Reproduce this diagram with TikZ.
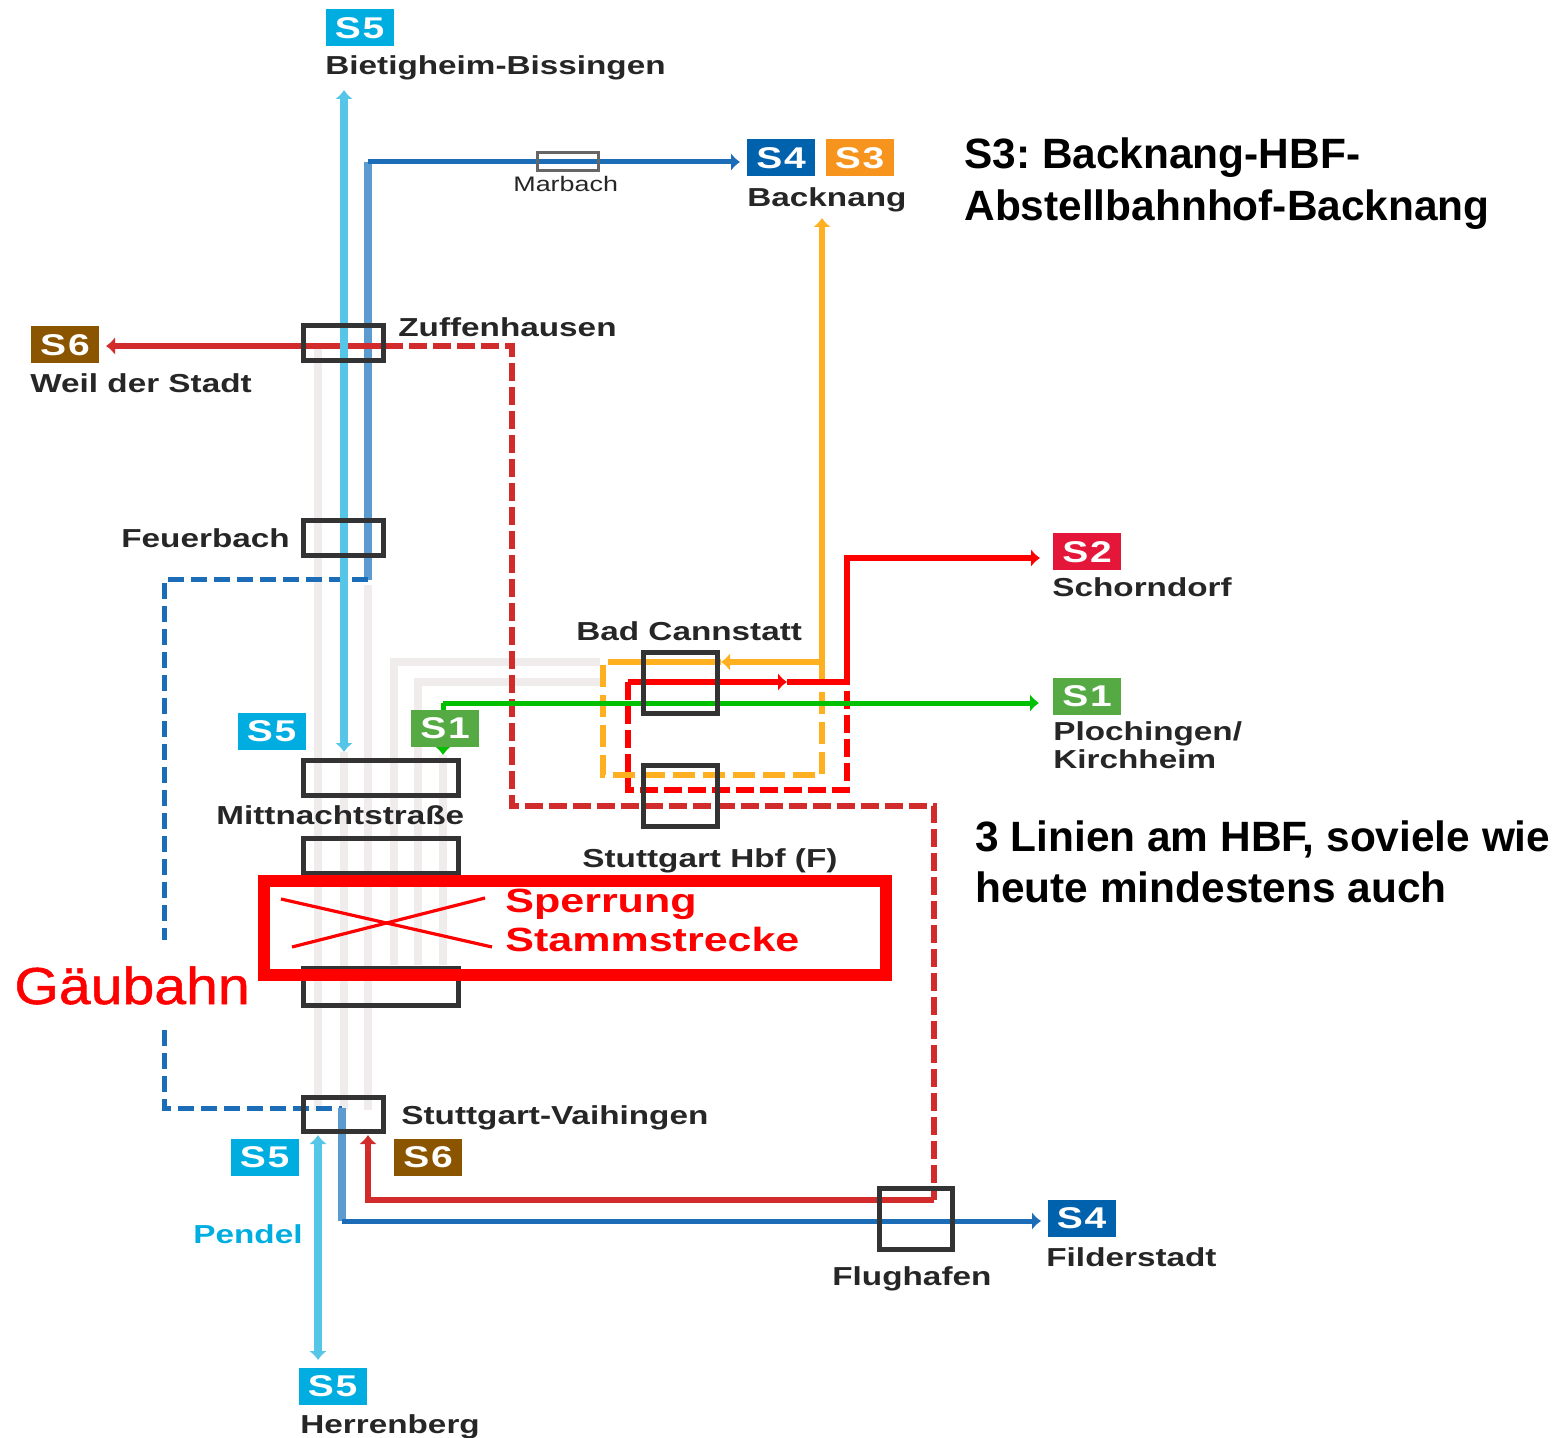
\documentclass[tikz,border=0pt]{standalone}
\usepackage{fontspec}
\setmainfont{Liberation Sans}
\newfontfamily\stationfont[FakeStretch=1.28,BoldFont={Liberation Sans Bold}]{Liberation Sans}
\newfontfamily\badgefont[FakeStretch=1.3,LetterSpace=6]{Liberation Sans Bold}
\newfontfamily\gaeufont[FakeStretch=1.1,FakeBold=1]{Liberation Sans}
\frenchspacing
\usetikzlibrary{arrows.meta}
\definecolor{cyanline}{HTML}{55C5E8}
\definecolor{blueline}{HTML}{5B9BD0}
\definecolor{bluethin}{HTML}{1C6DB8}
\definecolor{redline}{HTML}{D22B2B}
\definecolor{brightred}{HTML}{FF0000}
\definecolor{orangeline}{HTML}{FFB020}
\definecolor{greenline}{HTML}{00C000}
\definecolor{closedline}{HTML}{F0ECEC}
\definecolor{badgecyan}{HTML}{00ADE0}
\definecolor{badgeblue}{HTML}{0061AD}
\definecolor{badgeorange}{HTML}{F7941D}
\definecolor{badgebrown}{HTML}{8B5500}
\definecolor{badgered}{HTML}{E4173B}
\definecolor{badgegreen}{HTML}{55AA44}
\tikzset{%
    tip/.style={arrows={-{Latex[length=4.5pt,width=9pt]}}},
    tiptwo/.style={arrows={{Latex[length=4.5pt,width=9pt]}-{Latex[length=4.5pt,width=9pt]}}},
    closed/.style={closedline, line width=4pt},
    pendel/.style={cyanline, line width=4pt},
    sfour/.style={blueline, line width=4pt},
    sfourthin/.style={bluethin, line width=2.5pt},
    sfourdash/.style={bluethin, line width=2.5pt, dash pattern=on 8pt off 3.5pt},
    ssix/.style={redline, line width=3pt},
    ssixdash/.style={redline, line width=3pt, dash pattern=on 9pt off 3pt},
    sthree/.style={orangeline, line width=3pt},
    sthreedash/.style={orangeline, line width=3pt, dash pattern=on 11pt off 4pt},
    stwo/.style={brightred, line width=3pt},
    stwodash/.style={brightred, line width=3pt, dash pattern=on 9pt off 3pt},
    sone/.style={greenline, line width=2.5pt},
    station/.style={draw=black!80, line width=2.5pt, inner sep=0pt},
    badge/.style={minimum width=34pt, minimum height=18.5pt, inner sep=0pt,
        text=white, font=\badgefont\fontsize{15}{15}\selectfont},
    stationlabel/.style={anchor=west, inner sep=0pt, text=black!85,
        text height=9.4pt, text depth=0pt,
        font=\stationfont\bfseries\fontsize{13}{13}\selectfont},
    closure/.style={anchor=west, inner sep=0pt, text=brightred,
        text height=12pt, text depth=0pt,
        font=\stationfont\bfseries\fontsize{16.8}{16.8}\selectfont},
    remark/.style={anchor=west, inner sep=0pt,
        text height=15.2pt, text depth=0pt,
        font=\bfseries\fontsize{21.2}{21.2}\selectfont}
}

\begin{document}
\begin{tikzpicture}[x=0.5pt, y=-0.5pt]

    \useasboundingbox (0, 0) rectangle (1558, 1438);

    %%%%%%%%%%%%
    % Ends and corners of the lines
    \foreach \name/\x/\y in {%
        cyantop/344/90, cyanmid/344/752, cyanlow/318/1135, cyanend/318/1360,
        bluetop/368/162, blueend/740/162, bluefork/368/580,
        bluewest/164/580, bluegap/164/940, blueback/164/1030,
        bluesouth/164/1108, bluejoin/342/1108, bluecorner/342/1221,
        bluefild/1041/1221,
        redwest/106/346, redstation/385/346, rednorth/512/346,
        redsouth/512/806, redeast/934/806, redfar/934/1200,
        redback/368/1200, redvai/368/1135,
        orangetop/822/218, orangefork/822/662, orangehead/721/662,
        orangejoin/623/662,
        orangelow/822/775, orangeleft/603/775, orangeup/603/662,
        stwoend/1040/558, stwotop/847/558, stwofork/847/682,
        stwohead/787/682, stwoleft/628/682, stwolow/628/790, stworight/847/790,
        soneend/1039/703, sonecorner/443/703, sonehead/443/755,
        greyA/318/346, greyB/318/1110, greyC/344/1110,
        greyD/368/585, greyE/368/1110, greyF/600/662, greyG/394/662,
        greyH/394/965, greyI/600/682, greyJ/418/682, greyK/418/965,
        greyL/443/965, crossA/281/899, crossB/492/947, crossC/292/947,
        crossD/485/898%
    }{%
        \coordinate (\name) at (\x, \y);
    };

    %%%%%%%%%%%%
    % Closed tracks
    \draw[closed] (greyA) -- (greyB);
    \draw[closed] (cyanmid) -- (greyC);
    \draw[closed] (greyD) -- (greyE);
    \draw[closed] (greyF) -- (greyG) -- (greyH);
    \draw[closed] (greyI) -- (greyJ) -- (greyK);
    \draw[closed] (sonehead) -- (greyL);

    % Lines
    \draw[sfour] (bluefork) -- (bluetop);
    \draw[sfourthin, tip] (bluetop) -- (blueend);
    \draw[sfourdash] (bluefork) -- (bluewest) -- (bluegap);
    \draw[sfourdash] (blueback) -- (bluesouth) -- (bluejoin);
    \draw[sfour] (bluejoin) -- (bluecorner);
    \draw[sfourthin, tip] (bluecorner) -- (bluefild);

    \draw[ssix, tip] (redstation) -- (redwest);
    \draw[ssixdash] (redstation) -- (rednorth) -- (redsouth) -- (redeast) -- (redfar);
    \draw[ssix, tip] (redfar) -- (redback) -- (redvai);

    \draw[sthree, tip] (orangefork) -- (orangetop);
    \draw[sthree, tip] (orangefork) -- (orangehead);
    \draw[sthree] (orangehead) -- (orangejoin);
    \draw[sthreedash] (orangefork) -- (orangelow) -- (orangeleft) -- (orangeup) -- (orangejoin);

    \draw[stwo, tip] (stwofork) -- (stwotop) -- (stwoend);
    \draw[stwo] (stwofork) -- (stwohead);
    \draw[stwo, tip] (stwoleft) -- (stwohead);
    \draw[stwodash] (stwoleft) -- (stwolow) -- (stworight) -- (stwofork);

    \draw[sone, tip] (sonecorner) -- (soneend);
    \draw[sone, tip] (sonecorner) -- (sonehead);

    \draw[pendel, tiptwo] (cyantop) -- (cyanmid);
    \draw[pendel, tiptwo] (cyanlow) -- (cyanend);

    %%%%%%%%%%%%
    % Stations
    \foreach \name/\x/\y/\w/\h in {%
        zuffen/343/343.5/80/35, feuer/343/538.5/80/35, mitt/380.5/777.5/155/35,
        schwab/380.5/855.5/155/35, west/380.5/986.5/155/37, vaih/343/1114/80/34,
        cann/680/682.5/74/61, hbf/680/795.5/74/61, flug/915.5/1218.5/73/61%
    }{%
        \node[station, minimum width=\w*0.5pt, minimum height=\h*0.5pt]
            (\name) at (\x, \y) {};
    };
    \node[draw=black!60, line width=1.5pt, inner sep=0pt, minimum width=30.5pt,
        minimum height=9pt] (marbach) at (567.5, 162) {};

    % Closure of the main line
    \draw[brightred, line width=1.6pt] (crossA) -- (crossB);
    \draw[brightred, line width=1.6pt] (crossC) -- (crossD);
    \node[draw=brightred, line width=6pt, inner sep=0pt, minimum width=311pt,
        minimum height=47pt] (sperre) at (575, 927.5) {};
    \node[closure] (sperrung) at (505, 900) {Sperrung};
    \node[closure] (stamm) at (505, 939) {Stammstrecke};

    %%%%%%%%%%%%
    % Line badges
    \foreach \name/\x/\y/\colour/\lab in {%
        bietbadge/359.5/28/badgecyan/S5, backfour/781/158/badgeblue/S4,
        backthree/859.5/158/badgeorange/S3, weilbadge/65/345/badgebrown/S6,
        schobadge/1087/552/badgered/S2, plobadge/1087/696/badgegreen/S1,
        mittfive/271.5/731/badgecyan/S5, mittone/445/728/badgegreen/S1,
        vaihfive/264.5/1157.5/badgecyan/S5, vaihsix/428/1157/badgebrown/S6,
        filbadge/1081.5/1218/badgeblue/S4, herrbadge/332.5/1386/badgecyan/S5%
    }{%
        \node[badge, fill=\colour] (\name) at (\x, \y) {\lab};
    };

    % Names
    \foreach \name/\x/\y/\lab in {%
        biet/325/65/Bietigheim-Bissingen, back/747/197/Backnang,
        zufflab/398/327/Zuffenhausen, weil/30/383/Weil der Stadt,
        feuerlab/121/538/Feuerbach, schorn/1052/587/Schorndorf,
        cannlab/576/631/Bad Cannstatt, ploch/1053/731/{Plochingen/},
        kirch/1053/759/Kirchheim, mittlab/216/815/Mittnachtstraße,
        hbflab/582/858/Stuttgart Hbf (F), vaihlab/401/1115/Stuttgart-Vaihingen,
        fild/1046/1257/Filderstadt, fluglab/832/1276/Flughafen,
        herr/300/1424/Herrenberg%
    }{%
        \node[stationlabel] (\name) at (\x, \y) {\lab};
    };
    \node[stationlabel, font=\stationfont\fontsize{10.5}{10.5}\selectfont]
        (marblab) at (513, 182) {Marbach};
    \node[stationlabel, text=badgecyan] (pendellab) at (193, 1234) {Pendel};
    \node[anchor=west, inner sep=0pt, text=brightred, text height=19pt, text depth=0pt,
        font=\gaeufont\fontsize{26}{26}\selectfont] (gaeu) at (14, 985) {Gäubahn};

    % Remarks
    \node[remark] (remarkA) at (964, 153) {S3: Backnang-HBF-};
    \node[remark] (remarkB) at (964, 205) {Abstellbahnhof-Backnang};
    \node[remark] (remarkC) at (975, 836) {3 Linien am HBF, soviele wie};
    \node[remark] (remarkD) at (975, 887) {heute mindestens auch};

\end{tikzpicture}
\end{document}
